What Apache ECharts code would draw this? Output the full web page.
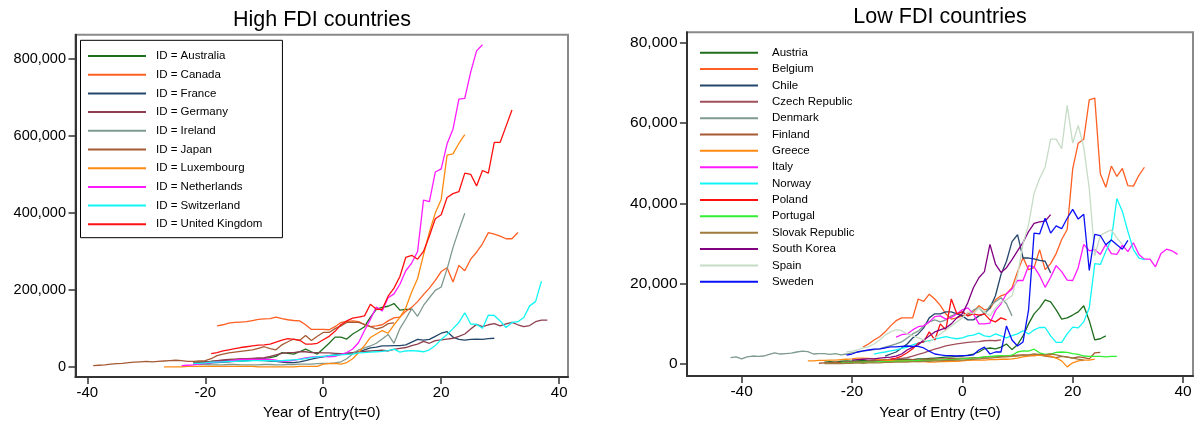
<!DOCTYPE html>
<html>
<head>
<meta charset="utf-8">
<script src="https://cdn.jsdelivr.net/npm/echarts@6/dist/echarts.min.js"></script>
<style>
  html, body { margin: 0; padding: 0; background: #fff; }
  #chart { width: 1195px; height: 425px; }
</style>
</head>
<body>
<div id="chart"></div>
<script>
// Inward FDI stock (thousands) by year relative to entry (t = 0).
// Each series: first year, then one value per consecutive year.

// ---- High FDI countries ----
const australiaFrom = -22;
const australia = [12,13,14,15,16,17,18,19,20,21, 22,22,23,25,28,38,36,34,40,47, 40,34,48,62,78,78,73,86,95,105, 130,150,155,158,165,148,150,150];
const canadaFrom = -18;
const canada = [107,110,114,116,117,118,121,124,125,126, 130,126,123,121,120,110,98,98,98,97, 105,116,118,120,118,110,105,107,110,120, 128,130,145,155,170,188,205,225,248,258, 221,264,250,280,298,320,349,345,340,333, 333,349];
const franceFrom = -22;
const france = [8,9,10,11,12,13,14,15,16,17, 18,18,17,16,15,13,12,12,14,17, 21,24,27,30,32,34,36,37,40,45, 50,52,55,55,56,56,58,65,72,70, 72,80,88,92,78,72,70,72,73,72, 74,75];
const germanyFrom = -22;
const germany = [12,13,14,15,17,19,20,21,22,22, 23,24,25,28,32,36,38,38,40,40, 38,38,37,37,36,35,36,38,40,41, 42,43,44,42,46,49,51,56,60,67, 62,69,71,73,75,80,86,99,111,105, 110,113,107,112,116,110,105,108,118,122, 122];
const irelandFrom = -22;
const ireland = [8,7,7,6,6,6,7,7,6,6, 6,6,7,7,6,6,7,7,8,8, 8,9,10,10,11,14,22,35,45,50, 55,62,73,85,62,100,125,152,132,160, 180,199,208,255,310,356,399];
const japanFrom = -39;
const japan = [4,5,6,8,9,10,12,13,14,15, 14,15,16,17,18,17,15,15,16,17, 22,30,34,37,39,41,43,45,49,53, 48,45,58,66,73,69,82,69,80,90, 90,100,107,116,116,116,111,105,99,103, 113,115];
const luxembourgFrom = -27;
const luxembourg = [1,1,1,1,2,2,2,2,2,2, 2,2,2,2,2,2,1,1,1,1, 1,1,1,2,2,2,2,8,9,10, 8,12,22,38,56,77,86,95,88,110, 129,154,195,230,291,350,400,435,550,553, 580,603];
const netherlandsFrom = -24;
const netherlands = [4,5,6,8,10,12,14,15,16,18, 20,20,20,20,21,20,18,15,16,18, 21,24,26,27,28,27,28,33,38,47, 64,95,124,156,146,180,190,215,250,270, 300,433,429,506,514,579,617,695,697,765, 820,836];
const switzerlandFrom = -22;
const switzerland = [10,10,11,13,13,14,15,15,16,16, 17,17,17,17,16,17,18,19,20,22, 25,27,28,30,31,32,33,34,37,38, 39,40,41,43,47,39,42,43,42,40, 45,56,72,85,100,116,141,112,111,101, 135,134,120,103,116,118,129,159,170,223];
const ukFrom = -19;
const uk = [35,38,42,45,48,51,53,55,57,58, 60,65,70,74,72,70,60,60,62,71, 80,93,110,120,127,130,133,163,150,150, 184,205,235,285,290,280,300,340,385,395, 440,450,455,503,500,470,510,503,583,583, 625,667];

// ---- Low FDI countries ----
const austriaFrom = -25;
const austria = [0.5,0.6,0.5,0.7,0.8,0.7,0.8,0.9,0.8,1.0, 1.0,1.1,1.0,1.1,1.2,1.2,1.1,1.3,1.3,1.4, 1.5,1.6,1.7,1.8,1.9,2.0,2.2,2.5,3.0,3.8, 4.0,3.8,4.2,5.0,3.6,4.8,7.0,10.0,12.5,14.0, 16.0,15.5,13.5,11.2,11.5,12.2,13.0,14.5,10.8,6.0, 6.3,7.0];
const belgiumFrom = -18;
const belgium = [4.2,5.0,6.0,6.8,8.0,9.5,10.8,11.5,11.5,11.5, 16.2,15.6,17.4,16.2,14.6,12.5,11.2,11.5,12.0,12.5, 13.0,14.5,13.5,13.8,16.0,17.0,17.5,19.0,23.0,26.5, 23.5,24.0,28.5,23.5,25.0,27.5,31.0,33.5,48.6,55.0, 56.0,65.8,66.2,47.4,44.0,49.3,46.7,48.7,44.4,44.3, 47.0,49.0];
const chileFrom = -14;
const chile = [2.0,2.5,3.0,4.0,5.0,6.5,7.5,9.0,11.5,12.5, 12.5,13.0,13.0,12.5,12.0,11.0,11.0,12.0,12.5,14.0, 17.0,22.3,25.6,30.5,32.2,26.4,26.4,26.2,25.8,25.6, 22.7];
const czechFrom = -24;
const czech = [0.3,0.4,0.4,0.5,0.5,0.6,0.6,0.8,0.8,0.9, 1.0,1.2,1.2,1.4,1.6,2.0,2.4,2.8,3.3,3.7, 4.1,4.5,4.8,5.0,5.2,5.4,5.5,5.6,5.8,5.9, 5.8,6.0];
const denmarkFrom = -42;
const denmark = [1.6,1.8,1.3,1.8,2.0,1.9,2.0,2.4,2.8,2.5, 2.6,2.7,3.0,3.2,3.1,2.5,2.6,2.6,2.4,2.6, 2.3,2.5,2.8,3.0,3.2,3.4,3.6,3.8,4.2,4.6, 5.0,5.5,6.5,7.5,8.2,9.5,10.5,11.0,10.5,11.0, 12.0,12.5,13.0,12.0,13.5,14.0,12.5,14.5,15.5,16.5, 15.0,12.0];
const finlandFrom = -26;
const finland = [0.2,0.3,0.3,0.4,0.3,0.5,0.5,0.6,0.5,0.7, 0.7,0.8,0.8,0.9,0.8,1.0,1.0,1.1,1.0,1.2, 1.2,1.2,1.3,1.3,1.4,1.4,1.5,1.5,1.6,1.6, 1.7,1.8,1.8,1.9,2.0,2.1,2.2,2.3,2.2,2.1, 2.2,2.0,1.8,1.6,1.9,1.7,1.5,1.8,1.6,1.3, 2.8,2.9];
const greeceFrom = -28;
const greece = [0.8,0.8,0.9,0.9,1.0,1.0,1.1,1.2,1.3,1.5, 1.5,1.4,1.3,1.1,1.0,0.9,0.8,0.8,0.7,0.7, 0.6,0.6,0.5,0.5,0.6,0.6,0.7,0.7,0.8,0.9, 1.0,1.0,1.0,1.1,1.1,1.2,1.2,1.3,1.5,1.8, 2.0,2.1,2.2,2.1,2.0,1.5,0.8,-0.7,0.3,0.8, 1.0,1.0,1.2];
const italyFrom = -12;
const italy = [6.7,7.3,7.5,8.5,9.3,9.5,10.5,11.8,12.0,11.2, 11.6,12.5,13.5,14.0,12.5,10.0,10.0,10.2,13.3,15.0, 17.5,18.7,20.8,20.8,24.5,24.2,22.0,19.1,21.6,24.5, 23.0,20.9,20.8,24.0,29.8,28.2,28.5,27.3,29.8,27.5, 27.3,29.6,28.0,30.2,27.3,26.1,26.1,24.2,27.5,28.6, 28.2,27.3];
const norwayFrom = -16;
const norway = [2.5,2.8,3.0,3.3,3.5,3.9,4.2,4.8,5.2,5.5, 5.8,6.2,6.5,6.8,6.5,6.3,6.5,7.0,7.2,7.7, 7.0,6.8,7.5,7.0,6.5,7.1,7.5,8.3,7.5,8.5, 9.1,9.1,7.0,5.4,5.4,7.5,9.2,9.0,10.5,14.0, 25.0,24.8,28.0,31.0,41.2,38.0,33.0,28.5,26.4,26.0];
const polandFrom = -13;
const poland = [1.2,1.5,2.0,2.8,3.8,5.2,5.5,8.0,6.0,10.0, 8.5,16.2,12.5,13.0,12.0,12.5,12.2,12.5,11.0,10.5, 11.5,11.0];
const portugalFrom = -22;
const portugal = [0.3,0.3,0.4,0.4,0.5,0.5,0.5,0.6,0.6,0.6, 0.7,0.7,0.8,0.8,0.9,0.9,0.9,1.0,1.0,1.1, 1.1,1.2,1.3,1.4,1.5,1.6,1.8,1.9,2.0,2.1, 2.0,2.2,3.0,3.3,3.2,3.7,2.8,2.4,2.5,2.9, 3.0,2.9,2.6,2.4,2.0,1.9,1.9,1.9,1.8,1.9, 1.9];
const slovakFrom = -25;
const slovak = [0.1,0.1,0.2,0.1,0.2,0.2,0.3,0.2,0.3,0.3, 0.3,0.4,0.4,0.5,0.5,0.5,0.6,0.6,0.7,0.7, 0.8,0.8,0.9,0.9,1.0,1.0,1.1,1.2,1.3,1.4, 1.5,1.6,1.7,1.8,1.9,2.0,2.2,2.3,2.5,2.4, 2.3,2.5,2.3,2.0,1.8,1.5,1.2,1.0];
const koreaFrom = -20;
const korea = [1.0,1.1,1.2,1.3,1.3,1.5,1.6,1.7,2.0,2.5, 3.5,4.2,4.8,6.0,7.0,8.0,8.5,9.0,10.0,11.5, 12.5,15.3,19.0,21.5,23.0,29.8,24.9,22.8,24.0,26.0, 28.2,30.3,33.0,35.0,35.4,35.6,37.2];
const spainFrom = -21;
const spain = [3.0,3.2,3.5,4.0,4.3,5.0,6.0,7.2,8.0,8.6, 8.3,7.5,7.0,6.5,6.0,5.5,6.5,7.5,8.5,9.5, 10.5,11.5,13.0,12.5,14.0,13.0,12.0,14.0,15.5,16.0, 17.0,22.0,30.0,34.7,42.5,46.2,49.0,56.0,56.0,53.6, 64.4,55.0,59.4,54.0,43.7,27.0,32.0,32.8,33.4,31.4, 29.8];
const swedenFrom = -21;
const sweden = [2.2,2.5,3.0,3.3,3.5,3.7,3.8,4.0,4.3,4.3, 4.4,4.5,4.4,4.4,4.0,3.2,2.5,2.3,2.1,2.1, 2.0,2.1,2.1,2.3,3.5,4.2,2.5,3.0,3.0,9.5, 6.0,4.5,5.5,13.5,32.6,32.4,36.3,32.6,34.4,33.7, 36.3,38.5,36.1,37.3,23.3,32.3,32.0,29.7,30.9,29.7, 28.6,30.8];

// Axis ticks
const xTicks = [-40, -20, 0, 20, 40];
const highTicks = [0, 200000, 400000, 600000, 800000];
const lowTicks = [0, 20000, 40000, 60000, 80000];

const C = {
  green: '#1e6e1e', orangeRed: '#ff5f22', navy: '#24476b', maroon: '#8c3f4f',
  sage: '#7f9a8e', brown: '#a55a35', orange: '#ff8a12', magenta: '#ff1aff',
  cyan: '#12f5f5', red: '#ff1010', lime: '#33ee33', olive: '#a07a3e',
  purple: '#800080', pale: '#c6dcc6', blue: '#0a10f5', rose: '#a0505a'
};

const high = [
  ['ID = Australia', australiaFrom, australia, C.green],
  ['ID = Canada', canadaFrom, canada, C.orangeRed],
  ['ID = France', franceFrom, france, C.navy],
  ['ID = Germany', germanyFrom, germany, C.maroon],
  ['ID = Ireland', irelandFrom, ireland, C.sage],
  ['ID = Japan', japanFrom, japan, C.brown],
  ['ID = Luxembourg', luxembourgFrom, luxembourg, C.orange],
  ['ID = Netherlands', netherlandsFrom, netherlands, C.magenta],
  ['ID = Switzerland', switzerlandFrom, switzerland, C.cyan],
  ['ID = United Kingdom', ukFrom, uk, C.red]
];
const low = [
  ['Austria', austriaFrom, austria, C.green],
  ['Belgium', belgiumFrom, belgium, C.orangeRed],
  ['Chile', chileFrom, chile, C.navy],
  ['Czech Republic', czechFrom, czech, C.rose],
  ['Denmark', denmarkFrom, denmark, C.sage],
  ['Finland', finlandFrom, finland, C.brown],
  ['Greece', greeceFrom, greece, C.orange],
  ['Italy', italyFrom, italy, C.magenta],
  ['Norway', norwayFrom, norway, C.cyan],
  ['Poland', polandFrom, poland, C.red],
  ['Portugal', portugalFrom, portugal, C.lime],
  ['Slovak Republic', slovakFrom, slovak, C.olive],
  ['South Korea', koreaFrom, korea, C.purple],
  ['Spain', spainFrom, spain, C.pale],
  ['Sweden', swedenFrom, sweden, C.blue]
];

const FONT = '"Liberation Sans", Arial, Helvetica, sans-serif';
const fmt = v => Math.round(v).toLocaleString('en-US');

function makeSeries(list, idx) {
  return list.map(([name, from, vals, color]) => ({
    name, type: 'line', xAxisIndex: idx, yAxisIndex: idx,
    data: vals.map((v, i) => [from + i, v * 1000]),
    showSymbol: false, symbol: 'none', silent: true,
    lineStyle: { width: 1.3, color },
    itemStyle: { color },
    z: 3
  }));
}

function xAxis(idx, min, max, name, fs) {
  return {
    type: 'value', gridIndex: idx, min, max,
    name, nameLocation: 'middle', nameGap: 26,
    nameTextStyle: { fontSize: 15, color: '#000', fontFamily: FONT },
    axisLine: { show: true, onZero: false, lineStyle: { color: '#333', width: 2 } },
    axisTick: { show: true, length: 7, customValues: xTicks, lineStyle: { color: '#333', width: 1.5 } },
    axisLabel: { customValues: xTicks, margin: 8, fontSize: fs, color: '#000', fontFamily: FONT },
    splitLine: { show: false }
  };
}
function yAxis(idx, min, max, ticks, fs) {
  return {
    type: 'value', gridIndex: idx, min, max,
    axisLine: { show: true, onZero: false, lineStyle: { color: '#333', width: 2 } },
    axisTick: { show: true, length: 7, customValues: ticks, lineStyle: { color: '#333', width: 1.5 } },
    axisLabel: { customValues: ticks, margin: 9.5, fontSize: fs, color: '#000', fontFamily: FONT, formatter: fmt },
    splitLine: { show: false }
  };
}

// Legend keys are plain strokes, drawn as thin rectangles
const legendKey = { icon: 'rect', itemWidth: 58, itemHeight: 2, selectedMode: false };

const chart = echarts.init(document.getElementById('chart'), null, { renderer: 'canvas' });
chart.setOption({
  animation: false,
  backgroundColor: '#fff',
  textStyle: { fontFamily: FONT },
  graphic: [
    { type: 'text', x: 322, y: 20, style: { text: 'High FDI countries', fontSize: 21.5, fontFamily: FONT, fill: '#000', align: 'center', verticalAlign: 'middle' } },
    { type: 'text', x: 940, y: 17, style: { text: 'Low FDI countries', fontSize: 21.5, fontFamily: FONT, fill: '#000', align: 'center', verticalAlign: 'middle' } }
  ],
  grid: [
    { left: 75.5, top: 34.7, width: 492.5, height: 345.3, show: true, borderColor: '#8a8a8a', borderWidth: 2, backgroundColor: '#fff' },
    { left: 687, top: 32.3, width: 506, height: 347.7, show: true, borderColor: '#8a8a8a', borderWidth: 2, backgroundColor: '#fff' }
  ],
  xAxis: [
    xAxis(0, -42, 41.5, 'Year of Entry(t=0)', 15),
    xAxis(1, -49.9, 41.8, 'Year of Entry (t=0)', 15.5)
  ],
  yAxis: [
    yAxis(0, -25700, 862000, highTicks, 14.5),
    yAxis(1, -3000, 82600, lowTicks, 15.5)
  ],
  legend: [
    Object.assign({
      data: high.map(d => d[0]), orient: 'vertical', left: 80.5, top: 40.3,
      padding: [9.7, 20, 7.4, 7.5], itemGap: 6.7,
      borderColor: '#000', borderWidth: 1, backgroundColor: '#fff',
      textStyle: { fontSize: 11.5, color: '#000', lineHeight: 12, fontFamily: FONT, padding: [0, 0, 0, 5] }
    }, legendKey),
    Object.assign({
      data: low.map(d => d[0]), orient: 'vertical', left: 700, top: 46.7,
      padding: 0, itemGap: 4.36,
      textStyle: { fontSize: 11.5, color: '#000', lineHeight: 12, fontFamily: FONT, padding: [0, 0, 0, 9] }
    }, legendKey)
  ],
  series: [...makeSeries(high, 0), ...makeSeries(low, 1)]
});
</script>
</body>
</html>
